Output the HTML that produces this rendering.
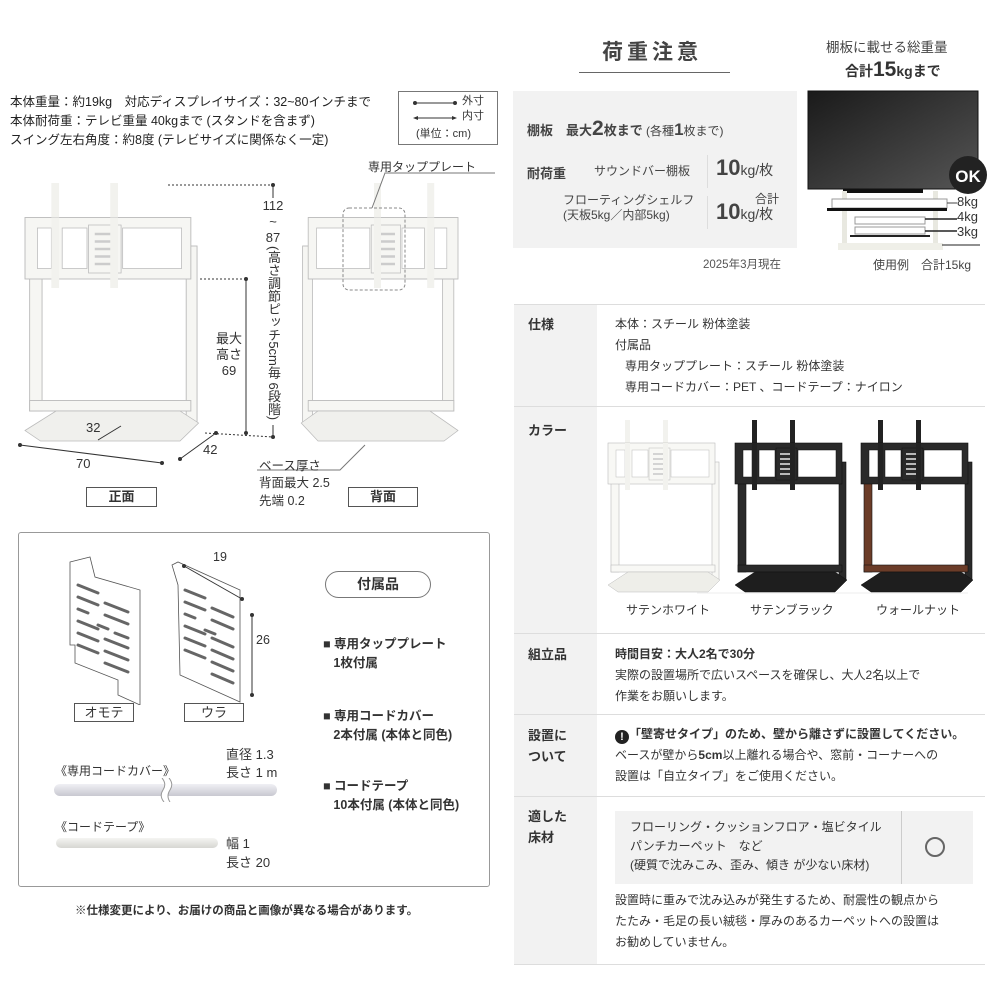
<!DOCTYPE html>
<html><head><meta charset="utf-8">
<style>
*{margin:0;padding:0;box-sizing:border-box}
body{width:1000px;height:1000px;position:relative;background:#fff;font-family:"Liberation Sans","Noto Sans CJK JP",sans-serif;color:#333;overflow:hidden}
.a{position:absolute;white-space:nowrap}
.t{font-size:12px;line-height:20px}
.b{font-weight:bold}
.lab{border:1px solid #555;text-align:center;font-size:13px;line-height:18px;font-weight:bold}
</style></head><body>
<svg width="0" height="0" style="position:absolute">
<defs>
<g id="stand">
<rect x="17" y="0" width="5" height="70" fill="var(--u)"/>
<rect x="55" y="0" width="5" height="70" fill="var(--u)"/>
<rect x="104" y="42" width="7" height="118" fill="var(--c)" stroke="var(--s)" stroke-width="0.6"/>
<rect x="3" y="62" width="8" height="90" fill="var(--f)" stroke="var(--s)" stroke-width="0.6"/>
<rect x="3" y="145" width="104" height="7" fill="var(--f)" stroke="var(--s)" stroke-width="0.6"/>
<rect x="0" y="23" width="107" height="41" fill="var(--c)" stroke="var(--s)" stroke-width="0.6"/>
<rect x="8" y="30" width="9" height="27" fill="#fff" stroke="var(--s)" stroke-width="0.5"/>
<rect x="24" y="30" width="16" height="27" fill="#fff" stroke="var(--s)" stroke-width="0.5"/>
<rect x="63" y="30" width="38" height="27" fill="#fff" stroke="var(--s)" stroke-width="0.5"/>
<rect x="41" y="28" width="21" height="32" fill="var(--c)" stroke="var(--s)" stroke-width="0.5"/>
<g stroke="var(--sl)" stroke-width="1.6"><line x1="45" y1="34" x2="58" y2="34"/><line x1="45" y1="39" x2="58" y2="39"/><line x1="45" y1="44" x2="58" y2="44"/><line x1="45" y1="49" x2="58" y2="49"/><line x1="45" y1="54" x2="58" y2="54"/></g>
<rect x="17" y="23" width="5" height="43" fill="var(--u)"/>
<rect x="55" y="23" width="5" height="43" fill="var(--u)"/>
<polygon points="0,165 20,152 100,152 112,160 100,172 10,172" fill="var(--b)" stroke="var(--s)" stroke-width="0.5"/>
</g>
</defs>
</svg>

<!-- Top left specs -->
<div class="a t" style="left:10px;top:93px;font-size:12.5px;line-height:19px;color:#222">本体重量：約19kg　対応ディスプレイサイズ：32~80インチまで<br>本体耐荷重：テレビ重量 40kgまで (スタンドを含まず)<br>スイング左右角度：約8度 (テレビサイズに関係なく一定)</div>
<div class="a" style="left:398px;top:91px;width:100px;height:54px;border:1px solid #777"></div>
<svg class="a" style="left:398px;top:91px" width="100" height="54">
<line x1="17" y1="12" x2="57" y2="12" stroke="#333"/><circle cx="17" cy="12" r="2" fill="#333"/><circle cx="57" cy="12" r="2" fill="#333"/>
<line x1="17" y1="27" x2="57" y2="27" stroke="#333"/><polygon points="15,27 20,25 20,29" fill="#333"/><polygon points="59,27 54,25 54,29" fill="#333"/>
</svg>
<div class="a" style="left:462px;top:94px;font-size:11px;line-height:15px">外寸<br>内寸</div>
<div class="a" style="left:416px;top:125px;font-size:11px">(単位：cm)</div>

<!-- diagrams -->
<svg class="a" style="left:0;top:150px" width="505" height="380">
<g style="--u:#f2f2ee;--c:#f6f6f3;--s:#bbb;--f:#f6f6f3;--b:#f0f0ed;--sl:#ccc" transform="translate(25,33) scale(1.55,1.5)"><use href="#stand"/></g>
<g style="--u:#f2f2ee;--c:#f6f6f3;--s:#bbb;--f:#f6f6f3;--b:#f0f0ed;--sl:#ccc" transform="translate(458,33) scale(-1.4,1.5)"><use href="#stand"/></g>
<rect x="343" y="58" width="62" height="82" rx="6" fill="none" stroke="#888" stroke-dasharray="3,2"/>
<polyline points="372,58 385,23 495,23" fill="none" stroke="#777"/>
<line x1="168" y1="35" x2="273" y2="35" stroke="#333" stroke-dasharray="2,2"/>
<line x1="273" y1="35" x2="273" y2="48" stroke="#333"/><line x1="273" y1="275" x2="273" y2="287" stroke="#333"/>
<circle cx="273" cy="35" r="2" fill="#333"/><circle cx="273" cy="287" r="2" fill="#333"/>
<line x1="200" y1="129" x2="246" y2="129" stroke="#333" stroke-dasharray="2,2"/>
<line x1="246" y1="129" x2="246" y2="283" stroke="#333"/>
<circle cx="246" cy="129" r="2" fill="#333"/><circle cx="246" cy="283" r="2" fill="#333"/>
<line x1="205" y1="283" x2="273" y2="287" stroke="#333" stroke-dasharray="2,2"/>
<line x1="20" y1="295" x2="162" y2="313" stroke="#333"/><circle cx="20" cy="295" r="2" fill="#333"/><circle cx="162" cy="313" r="2" fill="#333"/>
<line x1="180" y1="309" x2="216" y2="283" stroke="#333"/><circle cx="180" cy="309" r="2" fill="#333"/><circle cx="216" cy="283" r="2" fill="#333"/>
<line x1="98" y1="290" x2="121" y2="276" stroke="#333"/>
<polyline points="257,320 340,320 365,295" fill="none" stroke="#777"/>
</svg>
<div class="a" style="left:259px;top:198px;width:28px;text-align:center;font-size:13px;line-height:16px">112<br>~<br>87</div>
<div class="a" style="left:265px;top:246px;writing-mode:vertical-rl;font-size:13px;line-height:16px">(高さ調節ピッチ5cm毎 6段階)</div>
<div class="a" style="left:216px;top:331px;text-align:center;font-size:13px;line-height:16px">最大<br>高さ<br>69</div>
<div class="a" style="left:86px;top:420px;font-size:13px">32</div>
<div class="a" style="left:76px;top:456px;font-size:13px">70</div>
<div class="a" style="left:203px;top:442px;font-size:13px">42</div>
<div class="a" style="left:368px;top:158px;font-size:12px">専用タッププレート</div>
<div class="a" style="left:259px;top:455px;font-size:12.5px">ベース厚さ</div>
<div class="a" style="left:259px;top:474px;font-size:12.5px;line-height:18px">背面最大 2.5<br>先端 0.2</div>
<div class="a lab" style="left:86px;top:487px;width:71px;height:20px">正面</div>
<div class="a lab" style="left:348px;top:487px;width:70px;height:20px">背面</div>

<!-- accessories box -->
<div class="a" style="left:18px;top:532px;width:472px;height:355px;border:1px solid #999;border-radius:3px"></div>
<svg class="a" style="left:60px;top:545px" width="210" height="160">
<polygon points="10,17 30,12 35,32 80,45 80,160 58,150 58,135 15,118 15,100 10,100" fill="#fff" stroke="#555" stroke-width="0.8"/>
<g stroke="#666" stroke-width="3" stroke-linecap="round" fill="none">
<line x1="18" y1="40" x2="38" y2="48"/><line x1="18" y1="52" x2="38" y2="60"/><line x1="18" y1="64" x2="28" y2="68"/><line x1="18" y1="76" x2="38" y2="84"/><line x1="18" y1="88" x2="38" y2="96"/><line x1="18" y1="100" x2="38" y2="108"/>
<line x1="45" y1="58" x2="68" y2="67"/><line x1="45" y1="70" x2="68" y2="79"/><line x1="38" y1="80" x2="48" y2="84"/><line x1="55" y1="88" x2="68" y2="93"/><line x1="45" y1="94" x2="68" y2="103"/><line x1="45" y1="106" x2="68" y2="115"/><line x1="45" y1="118" x2="68" y2="127"/>
</g>
<polygon points="112,20 118,17 180,45 180,157 160,148 120,130 118,40" fill="#fff" stroke="#555" stroke-width="0.8"/>
<g stroke="#666" stroke-width="3" stroke-linecap="round" fill="none">
<line x1="125" y1="45" x2="145" y2="53"/><line x1="125" y1="57" x2="145" y2="65"/><line x1="125" y1="69" x2="135" y2="73"/><line x1="125" y1="81" x2="145" y2="89"/><line x1="125" y1="93" x2="145" y2="101"/><line x1="125" y1="105" x2="145" y2="113"/>
<line x1="152" y1="63" x2="173" y2="72"/><line x1="152" y1="75" x2="173" y2="84"/><line x1="145" y1="85" x2="155" y2="89"/><line x1="152" y1="93" x2="173" y2="102"/><line x1="152" y1="105" x2="173" y2="114"/><line x1="152" y1="117" x2="173" y2="126"/><line x1="152" y1="129" x2="173" y2="138"/>
</g>
<line x1="124" y1="21" x2="182" y2="54" stroke="#333"/><circle cx="124" cy="21" r="2" fill="#333"/><circle cx="182" cy="54" r="2" fill="#333"/>
<line x1="192" y1="70" x2="192" y2="150" stroke="#333"/><circle cx="192" cy="70" r="2" fill="#333"/><circle cx="192" cy="150" r="2" fill="#333"/>
</svg>
<div class="a" style="left:213px;top:550px;font-size:12.5px">19</div>
<div class="a" style="left:256px;top:633px;font-size:12.5px">26</div>
<div class="a lab" style="left:74px;top:703px;width:60px;height:19px;font-weight:normal">オモテ</div>
<div class="a lab" style="left:184px;top:703px;width:60px;height:19px;font-weight:normal">ウラ</div>
<div class="a" style="left:325px;top:571px;width:106px;height:27px;border:1px solid #777;border-radius:14px;text-align:center;font-size:14px;line-height:25px;font-weight:bold">付属品</div>
<div class="a b" style="left:323px;top:635px;font-size:12.5px;line-height:19px">■ 専用タッププレート<br>&nbsp;&nbsp;&nbsp;1枚付属</div>
<div class="a b" style="left:323px;top:707px;font-size:12.5px;line-height:19px">■ 専用コードカバー<br>&nbsp;&nbsp;&nbsp;2本付属 (本体と同色)</div>
<div class="a b" style="left:323px;top:777px;font-size:12.5px;line-height:19px">■ コードテープ<br>&nbsp;&nbsp;&nbsp;10本付属 (本体と同色)</div>
<div class="a" style="left:55px;top:762px;font-size:12px">《専用コードカバー》</div>
<div class="a" style="left:226px;top:746px;font-size:13px;line-height:18px">直径 1.3<br>長さ 1 m</div>
<div class="a" style="left:54px;top:784px;width:223px;height:12px;border-radius:6px;background:linear-gradient(#f0f0f4,#c8c8d0)"></div>
<svg class="a" style="left:158px;top:778px" width="18" height="24"><path d="M4,0 Q9,6 5,12 Q1,18 6,24 L12,24 Q8,18 12,12 Q16,6 11,0 Z" fill="#fff"/><path d="M4,0 Q9,6 5,12 Q1,18 6,24 M11,0 Q16,6 12,12 Q8,18 12,24" fill="none" stroke="#999"/></svg>
<div class="a" style="left:55px;top:818px;font-size:12px">《コードテープ》</div>
<div class="a" style="left:56px;top:838px;width:162px;height:10px;border-radius:5px;background:linear-gradient(#f4f4f2,#d6d6d2)"></div>
<div class="a" style="left:226px;top:834px;font-size:13px;line-height:19px">幅 1<br>長さ 20</div>
<div class="a b" style="left:75px;top:902px;font-size:11.5px">※仕様変更により、お届けの商品と画像が異なる場合があります。</div>

<!-- right top -->
<div class="a b" style="left:602px;top:36px;font-size:21px;letter-spacing:4px;color:#444">荷重注意</div>
<div class="a" style="left:579px;top:72px;width:151px;height:1px;background:#666"></div>
<div class="a" style="left:513px;top:91px;width:284px;height:157px;background:#f2f2f2"></div>
<div class="a b" style="left:527px;top:117px;font-size:13px;color:#444">棚板　最大<span style="font-size:21px">2</span>枚まで<span style="font-weight:normal;font-size:12px"> (各種<b style="font-size:17px">1</b>枚まで)</span></div>
<div class="a b" style="left:527px;top:163px;font-size:13px;color:#444">耐荷重</div>
<div class="a" style="left:594px;top:162px;font-size:12px;color:#444">サウンドバー棚板</div>
<div class="a" style="left:563px;top:193px;font-size:12px;line-height:15px;color:#444">フローティングシェルフ<br>(天板5kg／内部5kg)</div>
<div class="a" style="left:707px;top:155px;width:1px;height:33px;background:#ddd"></div>
<div class="a" style="left:707px;top:196px;width:1px;height:33px;background:#ddd"></div>
<div class="a b" style="left:716px;top:155px;font-size:22px;color:#444">10<span style="font-size:14px;font-weight:normal">kg/枚</span></div>
<div class="a" style="left:755px;top:190px;font-size:12px;color:#444">合計</div>
<div class="a b" style="left:716px;top:199px;font-size:22px;color:#444">10<span style="font-size:14px;font-weight:normal">kg/枚</span></div>
<div class="a" style="left:703px;top:256px;font-size:11.5px;color:#555">2025年3月現在</div>

<div class="a" style="left:826px;top:36px;font-size:13.5px;color:#444">棚板に載せる総重量</div>
<div class="a b" style="left:845px;top:58px;font-size:14px;color:#333">合計<span style="font-size:21px">15</span>kgまで</div>
<svg class="a" style="left:800px;top:85px" width="190" height="165">
<defs><linearGradient id="tv" x1="0" y1="0" x2="1" y2="1"><stop offset="0" stop-color="#1a1a1a"/><stop offset="1" stop-color="#555"/></linearGradient></defs>
<rect x="8" y="6" width="170" height="98" fill="url(#tv)" stroke="#111"/>
<rect x="43" y="104" width="80" height="4" fill="#111"/>
<rect x="42" y="106" width="5" height="54" fill="#e8e8e0"/><rect x="133" y="106" width="5" height="54" fill="#e8e8e0"/>
<rect x="32" y="114" width="115" height="9" fill="#fff" stroke="#999"/>
<rect x="27" y="123" width="120" height="3" fill="#111"/>
<rect x="55" y="132" width="70" height="7" fill="#fff" stroke="#999"/>
<rect x="55" y="142" width="70" height="7" fill="#fff" stroke="#999"/>
<rect x="50" y="150" width="80" height="2" fill="#222"/>
<rect x="38" y="158" width="105" height="7" fill="#efefe8"/>
<line x1="147" y1="118" x2="157" y2="118" stroke="#444"/>
<line x1="125" y1="134" x2="157" y2="134" stroke="#222" stroke-width="1.5"/>
<line x1="125" y1="146" x2="157" y2="146" stroke="#222" stroke-width="1.5"/>
<line x1="142" y1="160" x2="180" y2="160" stroke="#222"/>
<circle cx="168" cy="90" r="19" fill="#222"/>
<text x="168" y="97" text-anchor="middle" fill="#fff" font-size="17" font-weight="bold" font-family="Liberation Sans,sans-serif">OK</text>
</svg>
<div class="a" style="left:957px;top:194px;font-size:13px;line-height:15px;color:#333">8kg<br>4kg<br>3kg</div>
<div class="a" style="left:873px;top:256px;font-size:12px;color:#444">使用例　合計15kg</div>

<!-- table -->
<div class="a" style="left:514px;top:304px;width:83px;height:661px;background:#f2f2f2"></div>
<div class="a" style="left:514px;top:304px;width:471px;height:1px;background:#ddd"></div>
<div class="a" style="left:514px;top:406px;width:471px;height:1px;background:#ddd"></div>
<div class="a" style="left:514px;top:633px;width:471px;height:1px;background:#ddd"></div>
<div class="a" style="left:514px;top:714px;width:471px;height:1px;background:#ddd"></div>
<div class="a" style="left:514px;top:796px;width:471px;height:1px;background:#ddd"></div>
<div class="a" style="left:514px;top:964px;width:471px;height:1px;background:#ddd"></div>

<div class="a b t" style="left:528px;top:315px;font-size:13px">仕様</div>
<div class="a t" style="left:615px;top:314px;line-height:21px">本体：スチール 粉体塗装<br>付属品<br>&nbsp;&nbsp;&nbsp;専用タッププレート：スチール 粉体塗装<br>&nbsp;&nbsp;&nbsp;専用コードカバー：PET 、コードテープ：ナイロン</div>

<div class="a b t" style="left:528px;top:421px;font-size:13px">カラー</div>
<svg class="a" style="left:600px;top:415px" width="385" height="180">
<g style="--u:#f2f2ee;--c:#f8f8f5;--s:#bbb;--f:#f8f8f5;--b:#eeeee9;--sl:#ccc" transform="translate(8,5)"><use href="#stand"/></g>
<g style="--u:#222;--c:#2a2a2a;--s:#111;--f:#2a2a2a;--b:#1e1e1e;--sl:#ddd" transform="translate(135,5)"><use href="#stand"/></g>
<g style="--u:#222;--c:#2a2a2a;--s:#111;--f:#6b3c28;--b:#1e1e1e;--sl:#ddd" transform="translate(261,5)"><use href="#stand"/></g>
<line x1="97" y1="178" x2="368" y2="178" stroke="#eee"/>
</svg>
<div class="a t" style="left:626px;top:600px">サテンホワイト</div>
<div class="a t" style="left:750px;top:600px">サテンブラック</div>
<div class="a t" style="left:876px;top:600px">ウォールナット</div>

<div class="a b t" style="left:528px;top:645px;font-size:13px">組立品</div>
<div class="a t" style="left:615px;top:644px;line-height:21px"><b>時間目安：大人2名で30分</b><br>実際の設置場所で広いスペースを確保し、大人2名以上で<br>作業をお願いします。</div>

<div class="a b t" style="left:528px;top:725px;font-size:13px;line-height:21px">設置に<br>ついて</div>
<div class="a t" style="left:615px;top:724px;line-height:21px"><b><span style="display:inline-block;width:14px;height:14px;border-radius:50%;background:#222;color:#fff;text-align:center;line-height:14px;font-size:11px;vertical-align:-2px">!</span>「壁寄せタイプ」のため、壁から離さずに設置してください。</b><br>ベースが壁から<b>5cm</b>以上離れる場合や、窓前・コーナーへの<br>設置は「自立タイプ」をご使用ください。</div>

<div class="a b t" style="left:528px;top:806px;font-size:13px;line-height:21px">適した<br>床材</div>
<div class="a" style="left:615px;top:811px;width:358px;height:73px;background:#f2f2f2"></div>
<div class="a" style="left:901px;top:811px;width:1px;height:73px;background:#ccc"></div>
<div class="a t" style="left:630px;top:818px;line-height:19px">フローリング・クッションフロア・塩ビタイル<br>パンチカーペット　など<br>(硬質で沈みこみ、歪み、傾き が少ない床材)</div>
<div class="a" style="left:925px;top:837px;width:20px;height:20px;border:2px solid #666;border-radius:50%"></div>
<div class="a t" style="left:615px;top:890px;line-height:21px">設置時に重みで沈み込みが発生するため、耐震性の観点から<br>たたみ・毛足の長い絨毯・厚みのあるカーペットへの設置は<br>お勧めしていません。</div>
</body></html>
